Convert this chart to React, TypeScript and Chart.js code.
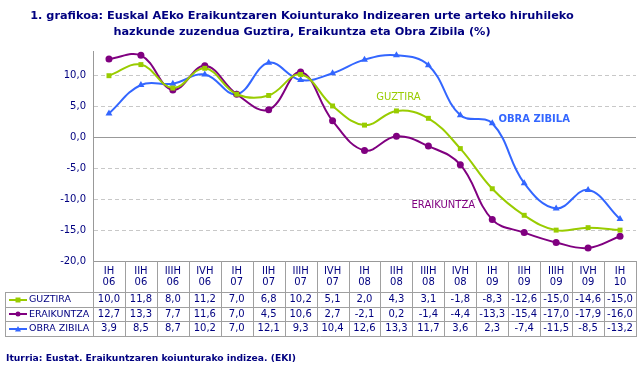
import React, { useEffect, useRef } from "react";
import { Chart, registerables } from "chart.js";

Chart.register(...registerables);

const quarters = ["IH", "IIH", "IIIH", "IVH", "IH", "IIH", "IIIH", "IVH", "IH", "IIH", "IIIH", "IVH", "IH", "IIH", "IIIH", "IVH", "IH"];
const years = ["06", "06", "06", "06", "07", "07", "07", "07", "08", "08", "08", "08", "09", "09", "09", "09", "10"];

const guztira = [10.0, 11.8, 8.0, 11.2, 7.0, 6.8, 10.2, 5.1, 2.0, 4.3, 3.1, -1.8, -8.3, -12.6, -15.0, -14.6, -15.0];
const eraikuntza = [12.7, 13.3, 7.7, 11.6, 7.0, 4.5, 10.6, 2.7, -2.1, 0.2, -1.4, -4.4, -13.3, -15.4, -17.0, -17.9, -16.0];
const obraZibila = [3.9, 8.5, 8.7, 10.2, 7.0, 12.1, 9.3, 10.4, 12.6, 13.3, 11.7, 3.6, 2.3, -7.4, -11.5, -8.5, -13.2];

const seriesNames = ["GUZTIRA", "ERAIKUNTZA", "OBRA ZIBILA"];
const titleLines = [
  "1. grafikoa: Euskal AEko Eraikuntzaren Koiunturako Indizearen urte arteko hiruhileko",
  "hazkunde zuzendua Guztira, Eraikuntza eta Obra Zibila (%)",
];
const sourceText = "Iturria: Eustat. Eraikuntzaren koiunturako indizea. (EKI)";

const NAVY = "#000080";
const COLORS = ["#99CC00", "#800080", "#3366FF"];
const STYLES = ["rect", "circle", "triangle"];
const FONT = "'DejaVu Sans', Verdana, sans-serif";

const fmt = (v: number) => v.toFixed(1).replace(".", ",");

function drawMarker(ctx: CanvasRenderingContext2D, style: string, cx: number, cy: number, r: number, color: string) {
  ctx.fillStyle = color;
  ctx.beginPath();
  if (style === "rect") {
    ctx.rect(cx - r, cy - r, 2 * r, 2 * r);
  } else if (style === "circle") {
    ctx.arc(cx, cy, r, 0, Math.PI * 2);
  } else {
    ctx.moveTo(cx, cy - r - 0.5);
    ctx.lineTo(cx + r + 0.5, cy + r);
    ctx.lineTo(cx - r - 0.5, cy + r);
    ctx.closePath();
  }
  ctx.fill();
}

const tablePlugin = {
  id: "tableAndTexts",
  afterDraw(chart: any) {
    const ctx: CanvasRenderingContext2D = chart.ctx;
    const xs = chart.scales.x;
    const ys = chart.scales.y;
    const area = chart.chartArea;
    const n = quarters.length;
    const colW = (area.right - area.left) / n;
    const top = area.bottom;
    const rowTops = [top + 31, top + 45.5, top + 60, top + 74.5];
    const tableLeft = 5;
    const all = [guztira, eraikuntza, obraZibila];

    ctx.save();
    ctx.strokeStyle = "#a0a0a0";
    ctx.lineWidth = 1;
    ctx.beginPath();
    rowTops.forEach((ry) => {
      const yy = Math.round(ry) + 0.5;
      ctx.moveTo(tableLeft, yy);
      ctx.lineTo(area.right + 0.5, yy);
    });
    ctx.moveTo(tableLeft + 0.5, Math.round(rowTops[0]));
    ctx.lineTo(tableLeft + 0.5, Math.round(rowTops[3]) + 1);
    for (let k = 0; k <= n; k++) {
      const xx = Math.round(area.left + k * colW) + 0.5;
      ctx.moveTo(xx, top);
      ctx.lineTo(xx, Math.round(rowTops[3]) + 1);
    }
    ctx.stroke();

    ctx.fillStyle = NAVY;
    ctx.font = `10px ${FONT}`;
    ctx.textAlign = "center";
    ctx.textBaseline = "middle";
    for (let i = 0; i < n; i++) {
      const cx = xs.getPixelForValue(i);
      ctx.fillText(quarters[i], cx, top + 10);
      ctx.fillText(years[i], cx, top + 21);
    }
    for (let s = 0; s < 3; s++) {
      const cy = (rowTops[s] + rowTops[s + 1]) / 2 + 0.5;
      ctx.font = `10px ${FONT}`;
      ctx.textAlign = "center";
      ctx.fillStyle = NAVY;
      for (let i = 0; i < n; i++) {
        const cx = xs.getPixelForValue(i);
        ctx.fillText(fmt(all[s][i]), cx, cy);
      }
      ctx.strokeStyle = COLORS[s];
      ctx.lineWidth = 2;
      ctx.beginPath();
      ctx.moveTo(9, Math.round(cy));
      ctx.lineTo(27, Math.round(cy));
      ctx.stroke();
      drawMarker(ctx, STYLES[s], 18, Math.round(cy), 2.5, COLORS[s]);
      ctx.fillStyle = NAVY;
      ctx.textAlign = "left";
      ctx.font = `9.5px ${FONT}`;
      ctx.fillText(seriesNames[s], 29, cy);
    }

    ctx.font = `bold 11.3px ${FONT}`;
    ctx.fillStyle = NAVY;
    ctx.textAlign = "center";
    ctx.fillText(titleLines[0], 302, 16);
    ctx.fillText(titleLines[1], 302, 32);

    ctx.font = `bold 9.2px ${FONT}`;
    ctx.textAlign = "left";
    ctx.fillText(sourceText, 6, 359);

    ctx.textAlign = "center";
    ctx.font = `10px ${FONT}`;
    ctx.fillStyle = COLORS[0];
    ctx.fillText(seriesNames[0], xs.getPixelForValue(9) + 2, ys.getPixelForValue(6.5));
    ctx.fillStyle = COLORS[1];
    ctx.fillText(seriesNames[1], xs.getPixelForValue(11) - 17, ys.getPixelForValue(-11));
    ctx.font = `bold 10px ${FONT}`;
    ctx.fillStyle = COLORS[2];
    ctx.fillText(seriesNames[2], xs.getPixelForValue(13) + 10, ys.getPixelForValue(2.9));
    ctx.restore();
  },
};

export default function App() {
  const ref = useRef<HTMLCanvasElement | null>(null);

  useEffect(() => {
    if (!ref.current) return;
    const labels = quarters.map((q, i) => q + " " + years[i]);
    const data = [guztira, eraikuntza, obraZibila];
    const chart = new Chart(ref.current, {
      type: "line",
      data: {
        labels,
        datasets: seriesNames.map((name, s) => ({
          label: name,
          data: data[s],
          borderColor: COLORS[s],
          backgroundColor: COLORS[s],
          borderWidth: 2,
          pointStyle: STYLES[s] as any,
          pointRadius: s === 2 ? 4 : 3.5,
          pointBorderWidth: 0,
          tension: 0.4,
          fill: false,
        })),
      },
      options: {
        responsive: false,
        animation: false,
        layout: { padding: { left: 0, right: 5, top: 51, bottom: 114 } },
        plugins: {
          legend: { display: false },
          title: { display: false },
          tooltip: { enabled: false },
        },
        scales: {
          x: {
            type: "category",
            offset: true,
            ticks: { display: false },
            grid: { display: false, drawTicks: false },
            border: { display: true, color: "#999999", width: 1 },
          },
          y: {
            min: -20,
            max: 14,
            ticks: {
              stepSize: 5,
              color: NAVY,
              font: { family: FONT, size: 10 },
              padding: 7,
              callback: (v: any) => fmt(Number(v)),
            },
            afterBuildTicks: (scale: any) => {
              scale.ticks = scale.ticks.filter((t: any) => Math.abs(t.value % 5) < 1e-9);
            },
            afterFit: (scale: any) => {
              scale.width = 93;
            },
            grid: {
              drawTicks: false,
              color: (c: any) => (c.tick && c.tick.value === 0 ? "#999999" : "#c8c8c8"),
              lineWidth: 1,
            },
            border: {
              display: true,
              color: "#999999",
              width: 1,
              dash: (c: any) => (c.tick && c.tick.value !== 0 && c.tick.value !== -20 ? [4, 3] : []),
            } as any,
          },
        },
      },
      plugins: [tablePlugin],
    });
    return () => chart.destroy();
  }, []);

  return (
    <div style={{ position: "fixed", left: 0, top: 0, width: 641, height: 375, background: "#fff" }}>
      <canvas ref={ref} width={641} height={375} style={{ width: 641, height: 375 }} />
    </div>
  );
}
